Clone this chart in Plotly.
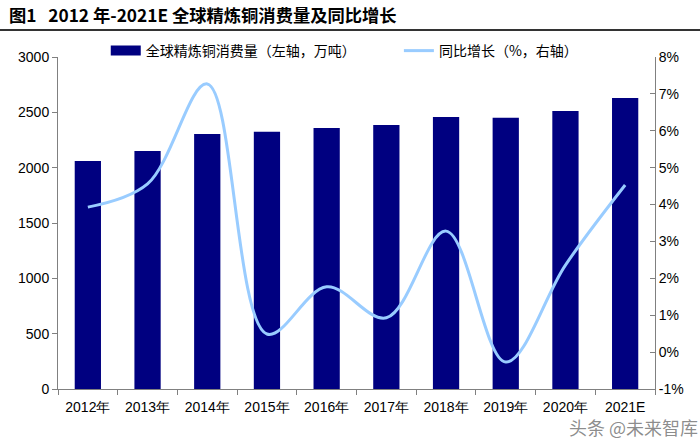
import plotly.graph_objects as go

years = ["2012年", "2013年", "2014年", "2015年", "2016年", "2017年", "2018年", "2019年", "2020年", "2021E"]
consumption = [2060, 2150, 2305, 2325, 2358, 2385, 2458, 2450, 2512, 2630]
growth = [3.93, 4.56, 7.27, 0.49, 1.77, 0.93, 3.28, -0.27, 2.36, 4.53]
left_ticks = [0, 500, 1000, 1500, 2000, 2500, 3000]
right_ticks = [-1, 0, 1, 2, 3, 4, 5, 6, 7, 8]

bar_color = "#000080"
line_color = "#99CCFF"

fig = go.Figure()
fig.add_trace(go.Bar(
    x=years, y=consumption, name="全球精炼铜消费量（左轴，万吨）",
    marker=dict(color=bar_color, line=dict(width=0)), width=0.44,
    showlegend=False,
))
# legend proxy giving a wide rectangular swatch for the bars
fig.add_trace(go.Scatter(
    x=[None], y=[None], name="全球精炼铜消费量（左轴，万吨）", mode="lines",
    line=dict(color=bar_color, width=10), showlegend=True, legend="legend",
))
fig.add_trace(go.Scatter(
    x=years, y=growth, name="同比增长（%，右轴）", yaxis="y2", mode="lines",
    line=dict(color=line_color, width=3, shape="spline", smoothing=1.0),
    showlegend=True, legend="legend2",
))

tickfont = dict(family="Liberation Sans, Arial", size=14, color="#000000")
legfont = dict(family="Noto Sans CJK SC", size=14, color="#000000")
fig.update_layout(
    width=700, height=443,
    margin=dict(l=58, r=45, t=57, b=54),
    paper_bgcolor="white", plot_bgcolor="white",
    showlegend=True,
    legend=dict(
        orientation="h", x=0.080, xanchor="left", y=1.018, yanchor="middle",
        font=legfont, bgcolor="rgba(0,0,0,0)", itemwidth=30,
    ),
    legend2=dict(
        orientation="h", x=0.571, xanchor="left", y=1.018, yanchor="middle",
        font=legfont, bgcolor="rgba(0,0,0,0)", itemwidth=30,
    ),
    xaxis=dict(
        showline=True, linecolor="#808080", linewidth=1,
        ticks="outside", tickson="boundaries", ticklen=5, tickcolor="#808080",
        tickfont=tickfont, showgrid=False, ticklabelstandoff=5,
    ),
    yaxis=dict(
        range=[0, 3000], tickvals=left_ticks, showline=True, linecolor="#808080",
        linewidth=1, ticks="outside", ticklen=5, tickcolor="#808080",
        tickfont=tickfont, showgrid=False, zeroline=False,
    ),
    yaxis2=dict(
        range=[-1, 8], tickvals=right_ticks, ticktext=[f"{v}%" for v in right_ticks],
        overlaying="y", side="right", showline=True, linecolor="#808080",
        linewidth=1, ticks="inside", ticklen=5, tickcolor="#808080",
        tickfont=tickfont, showgrid=False, zeroline=False,
    ),
    annotations=[
        dict(text="<b>图1   2012 年-2021E 全球精炼铜消费量及同比增长</b>",
             xref="paper", yref="paper", x=-51/597, y=1 + 42/332,
             xanchor="left", yanchor="middle", showarrow=False,
             font=dict(family="Noto Sans CJK SC", size=17.3, color="#000000")),
        dict(text="头条 @未来智库", xref="paper", yref="paper",
             x=642/597, y=-38/332, xanchor="right", yanchor="middle", showarrow=False,
             font=dict(family="Noto Sans CJK SC", size=18, color="rgba(90,90,90,0.7)")),
    ],
    shapes=[
        dict(type="line", xref="paper", yref="paper", x0=-58/597, x1=642/597,
             y0=1 + 27/332, y1=1 + 27/332, line=dict(color="#333333", width=2)),
    ],
)

fig.write_html("out.html", config={"displayModeBar": False},
               post_script="document.body.style.margin='0';")
